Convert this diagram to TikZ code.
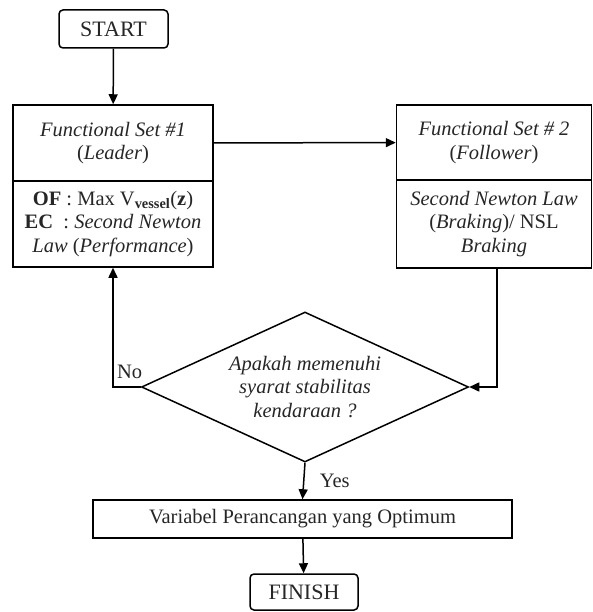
\documentclass[tikz,border=0pt]{standalone}
\usepackage{fontspec}
\setmainfont{Liberation Serif}
\usetikzlibrary{shapes.geometric}
\usetikzlibrary{arrows.meta}
\usetikzlibrary{positioning}

\begin{document}
\begin{tikzpicture}[x=1pt,y=-1pt,font=\fontsize{20.5}{23.5}\selectfont,
  every node/.style={align=center,text=black!85},
  terminal/.style={draw,rounded corners=4pt,line width=1.5pt,inner sep=0pt,minimum height=38pt,font=\fontsize{22}{24}\selectfont},
  block/.style={draw,line width=1.5pt,inner sep=2pt},
  decision/.style={draw,diamond,aspect=2.18,line width=1.5pt,inner sep=0pt,minimum width=327pt,minimum height=150pt},
  flow/.style={line width=1.5pt,-{Triangle[length=10pt,width=9pt]}}]
  \useasboundingbox (0,0) rectangle (593,612);

  \node[terminal,minimum width=109pt] (start) at (113.5,29) {START};
  \node[block,minimum width=200pt,minimum height=76pt] (lead) at (113,143)
    {\textit{Functional Set \#1}\\(\textit{Leader})};
  \node[block,minimum width=200pt,minimum height=86pt] (leadec) at (113,224)
    {\textbf{OF} : Max V\textsubscript{\textbf{vessel}}(\textbf{z})\\
     \textbf{EC}\ \ : \textit{Second Newton}\\ \textit{Law} (\textit{Performance})};
  \node[block,minimum width=195pt,minimum height=75pt] (follow) at (494,142.5)
    {\textit{Functional Set \# 2}\\(\textit{Follower})};
  \node[block,minimum width=195pt,minimum height=88pt] (followec) at (494,224)
    {\textit{Second Newton Law}\\ (\textit{Braking})/ NSL\\ \textit{Braking}};
  \node[decision] (check) at (305,387)
    {\textit{Apakah memenuhi}\\ \textit{syarat stabilitas}\\ \textit{kendaraan ?}};
  \node[block,minimum width=419pt,minimum height=38pt] (result) at (302.5,519)
    {Variabel Perancangan yang Optimum};
  \node[terminal,minimum width=108pt,minimum height=36pt] (finish) at (304,592) {FINISH};

  \draw[flow] (start) -- (lead);
  \draw[flow] (lead) -- (follow);
  \draw[flow] ([xshift=3pt]followec.south) |- (check.east);
  \draw[flow] (check.west) -| node[pos=0.2,above=4pt] {No} (leadec.south);
  \draw[flow] (check.south) -- node[right=12pt] {Yes} (result.north);
  \draw[flow] (result) -- (finish);

\end{tikzpicture}
\end{document}
